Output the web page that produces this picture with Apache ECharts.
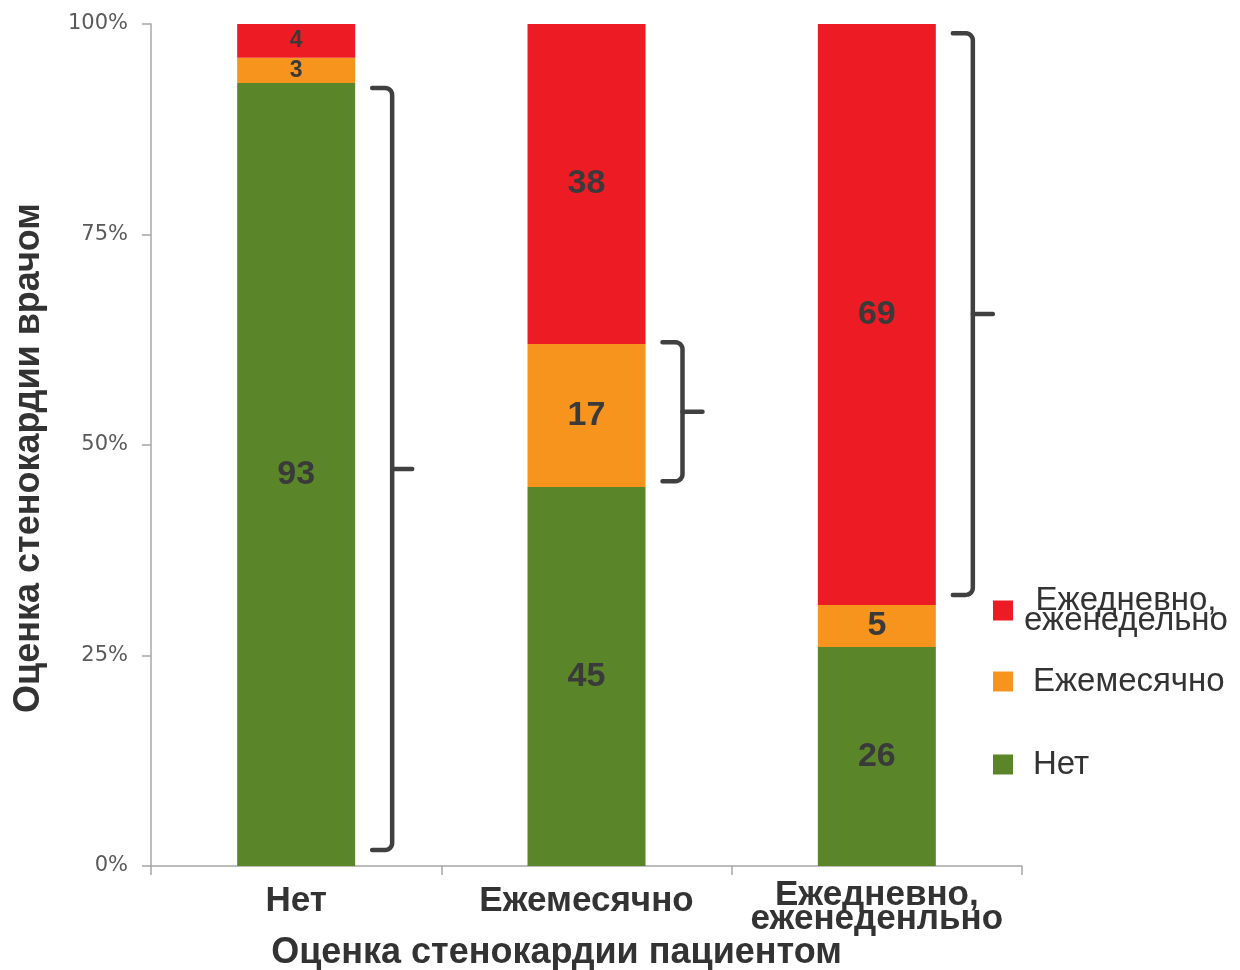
<!DOCTYPE html>
<html>
<head>
<meta charset="utf-8">
<script src="https://cdn.jsdelivr.net/npm/echarts@6/dist/echarts.min.js"></script>
<style>
  html, body { margin: 0; padding: 0; background: #ffffff; }
  #chart { width: 1240px; height: 970px; }
</style>
</head>
<body>
<div id="chart"></div>
<script>
// Patient-assessed angina frequency (columns) vs physician assessment (stack)
const categories = ['Нет', 'Ежемесячно', 'Ежедневно,\nеженеденльно'];
const seriesNames = ['Нет', 'Ежемесячно', 'Ежедневно,\nеженедельно'];
const valuesNone = [93, 45, 26];
const valuesMonthly = [3, 17, 5];
const valuesDailyWeekly = [4, 38, 69];
// Brace annotations: [category index, lower %, upper %]
const braceRanges = [
  [0, 1.9, 92.4],
  [1, 45.7, 62.2],
  [2, 32.2, 98.9]
];
const seriesColors = ['#5a8629', '#f7941d', '#ed1c24'];

const BAR_WIDTH = 118;
const LABEL_COLOR = '#3a3a3a';
const SANS = '"Liberation Sans", Arial, sans-serif';

function buildBarData(values) {
  return values.map(v => ({
    value: v,
    label: { fontSize: v < 5 ? 23 : 34 }
  }));
}

function renderBrace(params, api) {
  const cat = api.value(0);
  const lo = api.value(1);
  const hi = api.value(2);
  const pTop = api.coord([cat, hi]);
  const pBot = api.coord([cat, lo]);
  const barRight = pTop[0] + BAR_WIDTH / 2;
  const xl = barRight + 17;
  const xv = barRight + 37;
  const xt = barRight + 57;
  const yT = pTop[1];
  const yB = pBot[1];
  const yM = (yT + yB) / 2;
  const r = 7;
  const pts = [[xl, yT]];
  for (let i = 0; i <= 6; i++) {
    const a = -Math.PI / 2 + (Math.PI / 2) * i / 6;
    pts.push([xv - r + r * Math.cos(a), yT + r + r * Math.sin(a)]);
  }
  for (let i = 0; i <= 6; i++) {
    const a = (Math.PI / 2) * i / 6;
    pts.push([xv - r + r * Math.cos(a), yB - r + r * Math.sin(a)]);
  }
  pts.push([xl, yB]);
  const style = {
    stroke: '#404040',
    lineWidth: 4.5,
    fill: null,
    lineJoin: 'round',
    lineCap: 'round'
  };
  return {
    type: 'group',
    children: [
      { type: 'polyline', shape: { points: pts }, style: style },
      { type: 'line', shape: { x1: xv, y1: yM, x2: xt, y2: yM }, style: style }
    ]
  };
}

function legendFor(idx, top, formatter, rich) {
  return {
    data: [seriesNames[idx]],
    left: 993,
    top: top,
    orient: 'vertical',
    padding: 0,
    icon: 'rect',
    itemWidth: 20,
    itemHeight: 20,
    selectedMode: false,
    formatter: formatter,
    textStyle: {
      fontFamily: SANS,
      fontSize: 33,
      color: '#333333',
      rich: rich
    }
  };
}

const chart = echarts.init(document.getElementById('chart'));

const stackValues = [valuesNone, valuesMonthly, valuesDailyWeekly];
const barSeries = stackValues.map((vals, i) => ({
  name: seriesNames[i],
  type: 'bar',
  stack: 'total',
  barWidth: BAR_WIDTH,
  itemStyle: { color: seriesColors[i] },
  label: {
    show: true,
    position: 'inside',
    fontFamily: SANS,
    fontWeight: 'bold',
    fontSize: 34,
    color: LABEL_COLOR
  },
  emphasis: { disabled: true },
  data: buildBarData(vals)
}));

const option = {
  backgroundColor: '#ffffff',
  animation: false,
  grid: {
    left: 151, right: 218, top: 24, bottom: 104,
    containLabel: false,
    outerBoundsMode: 'none'
  },
  legend: [
    legendFor(2, 584, () => '{c|Ежедневно,}\n{c|еженедельно}', {
      c: { fontFamily: SANS, fontSize: 33, color: '#333333', lineHeight: 20, width: 212, align: 'center', padding: [0, 0, 0, 2] }
    }),
    legendFor(1, 665, name => '{t|' + name + '}', {
      t: { fontFamily: SANS, fontSize: 33, color: '#333333', lineHeight: 30, padding: [0, 0, 0, 15] }
    }),
    legendFor(0, 748, name => '{t|' + name + '}', {
      t: { fontFamily: SANS, fontSize: 33, color: '#333333', lineHeight: 30, padding: [0, 0, 0, 15] }
    })
  ],
  xAxis: {
    type: 'category',
    data: categories,
    name: 'Оценка стенокардии пациентом',
    nameLocation: 'middle',
    nameGap: 69,
    nameMoveOverlap: false,
    nameTextStyle: {
      fontFamily: SANS,
      fontWeight: 'bold',
      fontSize: 36,
      color: '#333333',
      padding: [0, 60, 0, 0]
    },
    axisLine: { lineStyle: { color: '#a6a6a6', width: 1.5 } },
    axisTick: { show: true, length: 9, lineStyle: { color: '#a6a6a6', width: 1.5 } },
    axisLabel: {
      margin: 17,
      interval: 0,
      formatter: v => v.indexOf('\n') >= 0
        ? v.split('\n').map(s => '{m|' + s + '}').join('\n')
        : '{s|' + v + '}',
      rich: {
        s: { fontFamily: SANS, fontWeight: 'bold', fontSize: 35, color: '#333333', lineHeight: 36 },
        m: { fontFamily: SANS, fontWeight: 'bold', fontSize: 35, color: '#333333', lineHeight: 24 }
      }
    }
  },
  yAxis: {
    type: 'value',
    min: 0,
    max: 100,
    interval: 25,
    name: 'Оценка стенокардии врачом',
    nameLocation: 'middle',
    nameGap: 104,
    nameMoveOverlap: false,
    nameTextStyle: {
      fontFamily: SANS,
      fontWeight: 'bold',
      fontSize: 36,
      color: '#333333',
      padding: [0, 26, 0, 0]
    },
    axisLine: { show: true, lineStyle: { color: '#a6a6a6', width: 1.5 } },
    axisTick: { show: true, length: 9, lineStyle: { color: '#a6a6a6', width: 1.5 } },
    splitLine: { show: false },
    axisLabel: {
      margin: 23,
      formatter: '{value}%',
      fontFamily: '"DejaVu Sans", sans-serif',
      fontSize: 21,
      color: '#5a5a5a'
    }
  },
  series: barSeries.concat([{
    type: 'custom',
    name: 'braces',
    renderItem: renderBrace,
    encode: { x: 0, y: [1, 2] },
    silent: true,
    z: 5,
    data: braceRanges
  }])
};

chart.setOption(option);
</script>
</body>
</html>
